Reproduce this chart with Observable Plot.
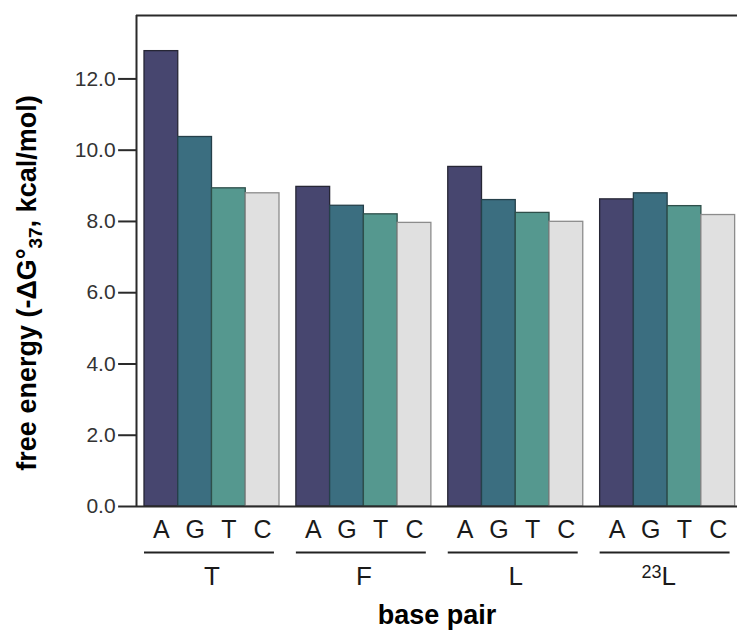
<!DOCTYPE html>
<html><head><meta charset="utf-8">
<script src="https://cdn.jsdelivr.net/npm/d3@7"></script>
<script src="https://cdn.jsdelivr.net/npm/@observablehq/plot@0.6"></script>
<style>
html,body{margin:0;padding:0;background:#fff;}
</style></head><body><div id="chart"></div>
<script>
const groups = ["T", "F", "L", "23L"];
const bases = ["A", "G", "T", "C"];
const valuesT = [12.78, 10.37, 8.93, 8.79];
const valuesF = [8.97, 8.44, 8.20, 7.96];
const valuesL = [9.53, 8.60, 8.24, 7.99];
const values23L = [8.62, 8.79, 8.43, 8.18];
const yTicks = [0, 2, 4, 6, 8, 10, 12];
const yLabel = "free energy (-ΔG°37, kcal/mol)";
const xLabel = "base pair";
const baseColors = ["#47466f", "#3b6e80", "#55988f", "#e0e0e0"];
const baseStrokes = ["#262635", "#25404a", "#2e4f4a", "#8c8c8c"];

const groupValues = [valuesT, valuesF, valuesL, values23L];
const pitch = 4.5; // bar widths per group (4 bars + gap)
const rows = [];
groups.forEach((g, gi) => bases.forEach((b, bi) => rows.push({
  group: g, base: b, value: groupValues[gi][bi],
  x1: gi * pitch + bi, x2: gi * pitch + bi + 1
})));
const groupRows = groups.map((g, gi) => ({group: g, start: gi * pitch, mid: gi * pitch + 2, end: gi * pitch + 3.85}));

const xMin = -0.237, xMax = 17.57, yMax = 13.78;
const tickLen = 0.53; // in bar widths (~18px)
const font = "'Liberation Sans', Arial, Helvetica, sans-serif";

const chart = Plot.plot({
  width: 737,
  height: 631,
  marginLeft: 136,
  marginRight: 0,
  marginTop: 15,
  marginBottom: 125,
  style: {fontFamily: font, fontSize: "20px", color: "#222", background: "#fff"},
  x: {domain: [xMin, xMax], axis: null},
  y: {domain: [0, yMax], axis: null},
  color: {domain: bases, range: baseColors},
  marks: [
    Plot.rect(rows, {x1: "x1", x2: "x2", y1: 0, y2: "value", fill: "base",
      stroke: d => baseStrokes[bases.indexOf(d.base)], strokeWidth: 1.3}),
    Plot.ruleX([xMin], {stroke: "#2a2a2a", strokeWidth: 2}),
    Plot.ruleY([0], {stroke: "#2a2a2a", strokeWidth: 2}),
    Plot.ruleY([yMax], {stroke: "#2a2a2a", strokeWidth: 2}),
    Plot.ruleY(yTicks, {x1: xMin - tickLen, x2: xMin, stroke: "#2a2a2a", strokeWidth: 2}),
    Plot.text(yTicks, {x: xMin - tickLen, y: d => d, text: d => d.toFixed(1), textAnchor: "end", dx: -3, fontSize: 21, fill: "#333"}),
    Plot.text(rows, {x: d => (d.x1 + d.x2) / 2, y: 0, text: "base", dy: 23, fontSize: 25, fill: "#1a1a1a"}),
    Plot.ruleY(groupRows, {y: () => 0, x1: "start", x2: "end", dy: 46, stroke: "#222", strokeWidth: 2}),
    Plot.text(groupRows, {x: "mid", y: 0, text: "group", dy: 70, fontSize: 26, fill: "#1a1a1a"}),
    Plot.text([xLabel], {frameAnchor: "bottom", dy: 117, fontSize: 27, fontWeight: "bold", fill: "#000"}),
    Plot.text([yLabel], {frameAnchor: "left", rotate: -90, lineAnchor: "bottom", textAnchor: "middle", dx: -101, dy: 22, fontSize: 27, fontWeight: "bold", fill: "#000"})
  ]
});

const sel = d3.select(chart).selectAll("text");
sel.filter(function() { return this.textContent === yLabel; }).each(function() {
  const t = d3.select(this);
  t.text(null);
  t.append("tspan").text("free energy (-ΔG°");
  t.append("tspan").attr("font-size", "0.7em").attr("dy", 6).text("37");
  t.append("tspan").attr("dy", -6).text(", kcal/mol)");
});
sel.filter(function() { return this.textContent === "23L"; }).each(function() {
  const t = d3.select(this);
  t.text(null);
  t.attr("transform", (t.attr("transform") || "") + " translate(-9,0)");
  t.append("tspan").attr("font-size", "18px").attr("dy", -7).text("23");
  t.append("tspan").attr("dy", 7).text("L");
});

document.getElementById("chart").appendChild(chart);
</script></body></html>
